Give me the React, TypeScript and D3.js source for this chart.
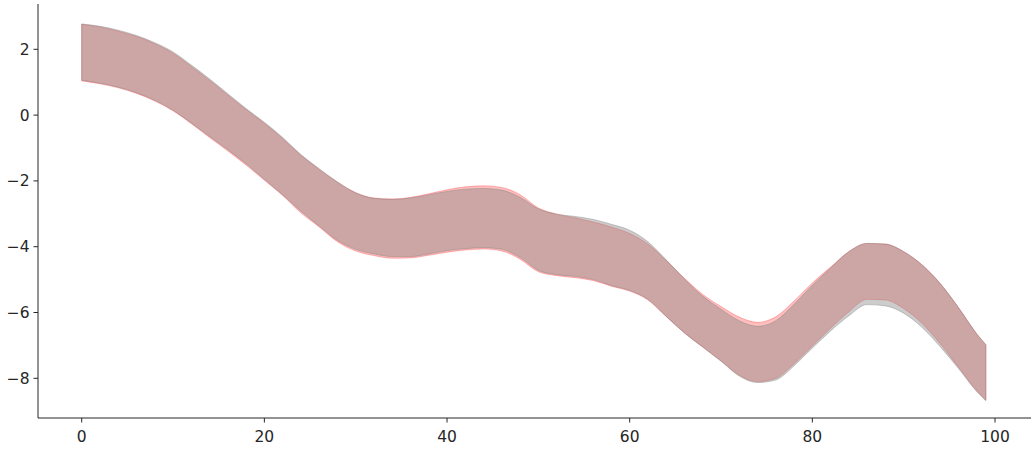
import React from "react";
import * as d3 from "d3";

const xs = [0, 2, 4, 6, 8, 10, 12, 14, 16, 18, 20, 22, 24, 26, 28, 30, 32, 34, 36, 38, 40, 42, 44, 46, 48, 50, 52, 54, 56, 58, 60, 62, 64, 66, 68, 70, 72, 74, 76, 78, 80, 82, 84, 86, 88, 90, 92, 94, 96, 98, 99];

const grayUpper = [2.77, 2.70, 2.58, 2.42, 2.20, 1.92, 1.52, 1.10, 0.65, 0.20, -0.22, -0.68, -1.20, -1.63, -2.03, -2.36, -2.53, -2.56, -2.52, -2.42, -2.32, -2.25, -2.23, -2.28, -2.50, -2.85, -3.01, -3.08, -3.17, -3.32, -3.50, -3.85, -4.40, -4.98, -5.50, -5.90, -6.25, -6.42, -6.25, -5.75, -5.17, -4.65, -4.15, -3.90, -3.92, -4.15, -4.55, -5.12, -5.85, -6.65, -6.98];
const grayLower = [1.06, 0.97, 0.85, 0.68, 0.45, 0.15, -0.24, -0.65, -1.05, -1.48, -1.95, -2.42, -2.92, -3.37, -3.81, -4.08, -4.22, -4.30, -4.30, -4.22, -4.12, -4.06, -4.03, -4.08, -4.33, -4.72, -4.85, -4.90, -5.00, -5.18, -5.33, -5.60, -6.12, -6.62, -7.05, -7.48, -7.93, -8.13, -8.05, -7.62, -7.08, -6.56, -6.10, -5.76, -5.80, -6.02, -6.45, -7.04, -7.70, -8.40, -8.68];
const redUpper = [2.76, 2.68, 2.55, 2.39, 2.17, 1.88, 1.48, 1.06, 0.61, 0.17, -0.25, -0.71, -1.22, -1.65, -2.04, -2.36, -2.52, -2.55, -2.50, -2.39, -2.27, -2.18, -2.15, -2.20, -2.42, -2.82, -3.01, -3.12, -3.25, -3.40, -3.60, -3.92, -4.42, -4.96, -5.45, -5.82, -6.14, -6.30, -6.13, -5.65, -5.10, -4.62, -4.15, -3.90, -3.92, -4.15, -4.55, -5.12, -5.85, -6.65, -6.98];
const redLower = [1.04, 0.95, 0.83, 0.66, 0.43, 0.13, -0.26, -0.68, -1.09, -1.52, -1.98, -2.44, -2.97, -3.40, -3.85, -4.13, -4.27, -4.35, -4.34, -4.26, -4.17, -4.10, -4.07, -4.13, -4.38, -4.76, -4.88, -4.94, -5.03, -5.20, -5.35, -5.62, -6.12, -6.62, -7.05, -7.47, -7.91, -8.10, -8.00, -7.56, -7.02, -6.48, -5.98, -5.60, -5.62, -5.88, -6.33, -6.95, -7.66, -8.38, -8.66];

const xTicks = [0, 20, 40, 60, 80, 100];
const yTicks = [2, 0, -2, -4, -6, -8];

const W = 1035;
const H = 450;
const axLeft = 38;
const axRight = 1031;
const axTop = 4;
const axBottom = 418;
const ink = "#262626";
const font = "'DejaVu Sans', sans-serif";
const fs = 15.5;

const fmt = (v: number) => (v < 0 ? "\u2212" + Math.abs(v) : String(v));

export default function App() {
  const x = d3.scaleLinear().domain([0, 100]).range([81.7, 995]);
  const y = d3.scaleLinear().domain([0, 2]).range([115.1, 49.3]);

  const band = (lo: number[], hi: number[]) =>
    d3
      .area<number>()
      .x((_, i) => x(xs[i]))
      .y0((_, i) => y(lo[i]))
      .y1((_, i) => y(hi[i]))
      .curve(d3.curveMonotoneX)(xs) as string;

  const redPath = band(redLower, redUpper);
  const grayPath = band(grayLower, grayUpper);

  return (
    <svg
      width={W}
      height={H}
      style={{ position: "absolute", left: 0, top: 0, display: "block", background: "#fff" }}
    >
      <path d={redPath} fill="rgba(255,0,0,0.25)" stroke="rgba(255,0,0,0.25)" strokeWidth={1} />
      <path d={grayPath} fill="rgba(128,128,128,0.4)" stroke="rgba(128,128,128,0.4)" strokeWidth={1} />

      <line x1={axLeft} x2={axLeft} y1={axTop} y2={axBottom} stroke={ink} strokeWidth={1} />
      <line x1={axLeft} x2={axRight} y1={axBottom} y2={axBottom} stroke={ink} strokeWidth={1} />

      {xTicks.map((t) => (
        <g key={"x" + t}>
          <line x1={x(t)} x2={x(t)} y1={axBottom} y2={axBottom + 4.5} stroke={ink} strokeWidth={1} />
          <text x={x(t)} y={441.5} textAnchor="middle" fontFamily={font} fontSize={fs} fill={ink}>
            {fmt(t)}
          </text>
        </g>
      ))}
      {yTicks.map((t) => (
        <g key={"y" + t}>
          <line x1={axLeft - 4.5} x2={axLeft} y1={y(t)} y2={y(t)} stroke={ink} strokeWidth={1} />
          <text x={axLeft - 8.5} y={y(t)} dy="0.36em" textAnchor="end" fontFamily={font} fontSize={fs} fill={ink}>
            {fmt(t)}
          </text>
        </g>
      ))}
    </svg>
  );
}
